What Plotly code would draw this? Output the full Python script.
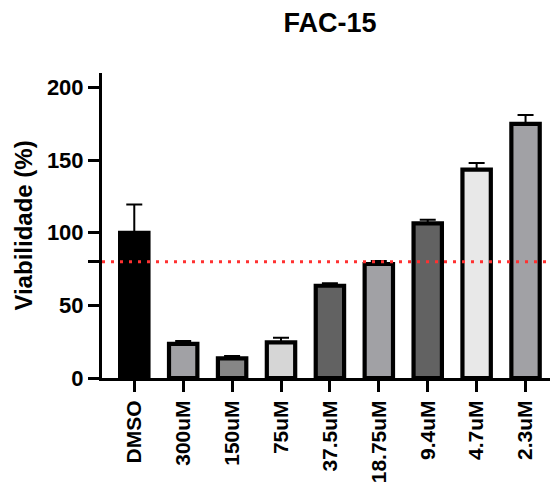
import plotly.graph_objects as go

# Cell viability per treatment (mean and upper SD)
categories = ["DMSO", "300uM", "150uM", "75uM", "37.5uM", "18.75uM", "9.4uM", "4.7uM", "2.3uM"]
viability = [100, 23.5, 13.5, 24.5, 63.5, 78.5, 106.5, 143.5, 175]
sd_upper = [19.5, 2.0, 1.6, 3.2, 1.8, 2.0, 2.5, 4.5, 6.0]
bar_colors = ["#000000", "#A1A1A5", "#868686", "#D6D6D6", "#626262",
              "#A1A1A5", "#626262", "#E8E8E8", "#A1A1A5"]

y_ticks = [0, 50, 80, 100, 150, 200]
y_tick_text = ["0", "50", "", "100", "150", "200"]
threshold = 80

FONT = "Liberation Sans, Arial, sans-serif"

fig = go.Figure()
fig.add_trace(go.Bar(
    x=list(range(len(categories))),
    y=viability,
    width=0.58,
    marker=dict(color=bar_colors, line=dict(color="black", width=4.2)),
    error_y=dict(type="data", array=sd_upper, arrayminus=[0] * len(sd_upper),
                 symmetric=False, color="black", thickness=2, width=8),
    showlegend=False,
))

# Reference threshold line at 80 %
fig.add_shape(type="line", xref="paper", yref="y", x0=0, x1=1, y0=threshold, y1=threshold,
              line=dict(color="#FF3030", width=3, dash="3px,6px"), layer="above")

fig.update_layout(
    width=554, height=489,
    margin=dict(l=102, r=4, t=73, b=111),
    plot_bgcolor="white", paper_bgcolor="white",
    title=dict(text="<b>FAC-15</b>", x=330 / 554, xref="container", xanchor="center",
               y=1 - 23 / 489, yref="container", yanchor="middle",
               font=dict(family=FONT, size=27, color="black")),
    xaxis=dict(
        range=[-0.66, 8.5],
        tickmode="array", tickvals=list(range(len(categories))),
        ticktext=[f"<b>{c}</b>" for c in categories],
        tickangle=-90,
        showline=True, linecolor="black", linewidth=3,
        ticks="outside", ticklen=11, tickwidth=3, tickcolor="black",
        showgrid=False, zeroline=False,
        tickfont=dict(family=FONT, size=21, color="black"),
    ),
    yaxis=dict(
        range=[0, 210],
        tickmode="array", tickvals=y_ticks,
        ticktext=[f"<b>{t}</b>" if t else "" for t in y_tick_text],
        showline=True, linecolor="black", linewidth=3,
        ticks="outside", ticklen=11, tickwidth=3, tickcolor="black",
        showgrid=False, zeroline=False,
        tickfont=dict(family=FONT, size=22, color="black"),
        title=dict(text="<b>Viabilidade (%)</b>", standoff=8,
                   font=dict(family=FONT, size=24, color="black")),
    ),
)

fig.write_html("out.html")
